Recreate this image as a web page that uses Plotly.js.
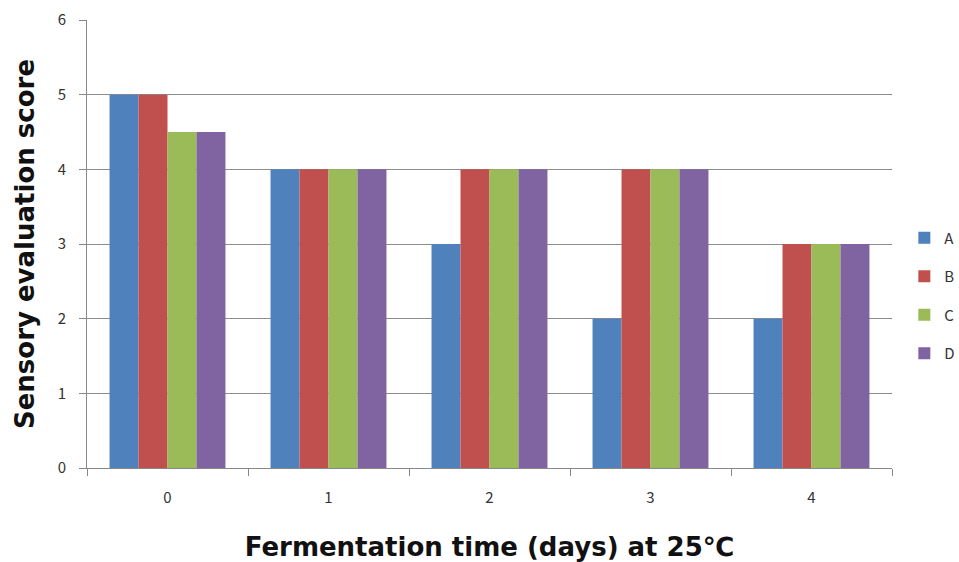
<!DOCTYPE html>
<html>
<head>
<meta charset="utf-8">
<script src="https://cdn.plot.ly/plotly-3.0.1.min.js"></script>
<style>
  html, body { margin: 0; padding: 0; background: #fff; }
  #chart { width: 959px; height: 562px; }
</style>
</head>
<body>
<div id="chart"></div>
<script>
// Fermentation days (categories)
const days = ['0', '1', '2', '3', '4'];

// Sensory evaluation scores per sample
const scoreA = [5, 4, 3, 2, 2];
const scoreB = [5, 4, 4, 4, 3];
const scoreC = [4.5, 4, 4, 4, 3];
const scoreD = [4.5, 4, 4, 4, 3];

const seriesNames = ['A', 'B', 'C', 'D'];
const seriesColors = ['#4F81BD', '#C0504D', '#9BBB59', '#8064A2'];
const seriesValues = [scoreA, scoreB, scoreC, scoreD];

const traces = seriesValues.map((vals, i) => ({
  type: 'bar',
  name: seriesNames[i],
  legendgroup: seriesNames[i],
  x: days,
  y: vals,
  marker: { color: seriesColors[i], line: { width: 0 } },
  hoverinfo: 'x+y+name'
}));

const tickFam = '"Noto Sans CJK KR", "Open Sans", sans-serif';
const titleFam = '"DejaVu Sans", "Noto Sans CJK KR", sans-serif';

const layout = {
  width: 959,
  height: 562,
  margin: { l: 87, r: 67, t: 20, b: 94 },
  paper_bgcolor: '#ffffff',
  plot_bgcolor: '#ffffff',
  barmode: 'group',
  bargap: 0.28,
  bargroupgap: 0,
  showlegend: true,
  legend: {
    xref: 'container',
    yref: 'container',
    x: 0.943,
    xanchor: 'left',
    y: 0.474,
    yanchor: 'middle',
    font: { family: tickFam, size: 15, color: '#333333' },
    tracegroupgap: 16,
    itemwidth: 30,
    bgcolor: 'rgba(0,0,0,0)'
  },
  xaxis: {
    type: 'category',
    tickson: 'boundaries',
    ticks: 'outside',
    ticklen: 7,
    tickcolor: '#888888',
    showline: true,
    linecolor: '#888888',
    linewidth: 1,
    showgrid: false,
    ticklabelstandoff: 16,
    tickfont: { family: tickFam, size: 15, color: '#333333' },
    title: {
      text: 'Fermentation time (days) at 25℃',
      font: { family: titleFam, size: 26, color: '#111111', weight: 'bold' },
      standoff: 31
    }
  },
  yaxis: {
    range: [0, 6],
    dtick: 1,
    ticks: 'outside',
    ticklen: 7,
    tickcolor: '#888888',
    showline: true,
    linecolor: '#888888',
    linewidth: 1,
    showgrid: true,
    gridcolor: '#8c8c8c',
    gridwidth: 1,
    zeroline: false,
    ticklabelstandoff: 10,
    tickfont: { family: tickFam, size: 15, color: '#333333' },
    title: {
      text: 'Sensory evaluation score',
      font: { family: titleFam, size: 26, color: '#111111', weight: 'bold' },
      standoff: 15
    }
  }
};

Plotly.newPlot('chart', traces, layout, { displayModeBar: false, staticPlot: true });
</script>
</body>
</html>
